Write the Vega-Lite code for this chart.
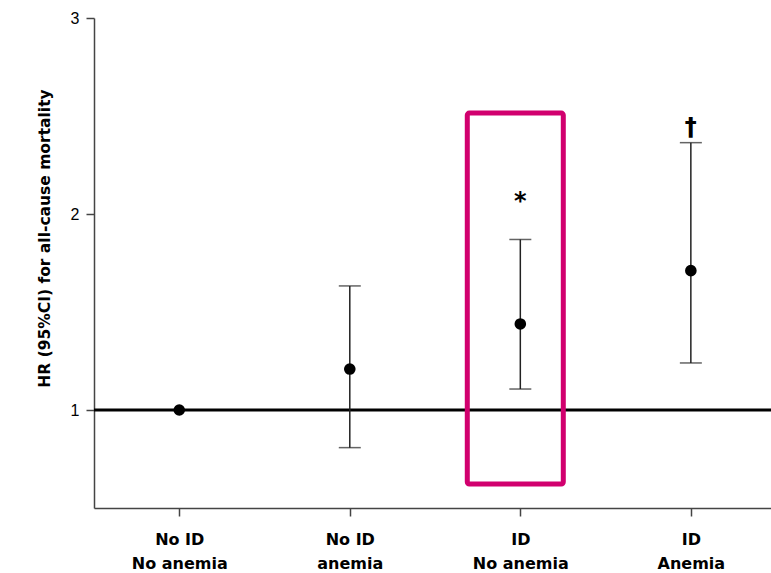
{
  "$schema": "https://vega.github.io/schema/vega-lite/v6.json",
  "width": 677,
  "height": 490,
  "autosize": {"type": "none"},
  "padding": {"left": 94, "top": 18, "right": 0, "bottom": 65},
  "background": "white",
  "config": {
    "view": {"stroke": null},
    "font": "Liberation Sans"
  },
  "datasets": {
    "pts": [
      {"group": 1, "label": "No ID|No anemia", "hr": 1.0, "lo": null, "hi": null},
      {"group": 2, "label": "No ID|anemia", "hr": 1.209, "lo": 0.808, "hi": 1.633},
      {"group": 3, "label": "ID|No anemia", "hr": 1.439, "lo": 1.107, "hi": 1.870},
      {"group": 4, "label": "ID|Anemia", "hr": 1.711, "lo": 1.240, "hi": 2.364}
    ],
    "marks": [
      {"group": 3, "y": 2.06, "sym": "*"},
      {"group": 4, "y": 2.44, "sym": "†"}
    ],
    "box": [
      {"x1": 2.689, "x2": 3.252, "y1": 0.622, "y2": 2.515}
    ]
  },
  "layer": [
    {
      "data": {"values": [{"ref": 1}]},
      "mark": {"type": "rule", "color": "black", "strokeWidth": 3},
      "encoding": {"y": {"field": "ref", "type": "quantitative"}}
    },
    {
      "data": {"name": "pts"},
      "transform": [{"filter": "datum.lo != null"}],
      "mark": {"type": "rule", "color": "#222", "strokeWidth": 1.5},
      "encoding": {
        "x": {"field": "group", "type": "quantitative"},
        "y": {"field": "lo", "type": "quantitative"},
        "y2": {"field": "hi"}
      }
    },
    {
      "data": {"name": "pts"},
      "transform": [{"filter": "datum.lo != null"}, {"fold": ["lo", "hi"], "as": ["end", "val"]}],
      "mark": {"type": "tick", "orient": "horizontal", "color": "#222", "size": 22, "thickness": 1.5},
      "encoding": {
        "x": {"field": "group", "type": "quantitative"},
        "y": {"field": "val", "type": "quantitative"}
      }
    },
    {
      "data": {"name": "pts"},
      "mark": {"type": "point", "filled": true, "color": "black", "size": 135, "opacity": 1},
      "encoding": {
        "x": {
          "field": "group",
          "type": "quantitative",
          "scale": {"domain": [0.5, 4.47], "nice": false, "zero": false},
          "axis": {
            "values": [1, 2, 3, 4],
            "title": null,
            "grid": false,
            "domainColor": "#444",
            "domainWidth": 1.5,
            "tickColor": "#444",
            "tickWidth": 1.5,
            "tickSize": 8,
            "labelExpr": "datum.value == 1 ? ['No ID', 'No anemia'] : datum.value == 2 ? ['No ID', 'anemia'] : datum.value == 3 ? ['ID', 'No anemia'] : ['ID', 'Anemia']",
            "labelFont": "DejaVu Sans",
            "labelFontWeight": "bold",
            "labelFontSize": 16,
            "labelLineHeight": 24,
            "labelColor": "black",
            "labelPadding": 15,
            "labelBaseline": "top"
          }
        },
        "y": {
          "field": "hr",
          "type": "quantitative",
          "scale": {"domain": [0.5, 3], "nice": false, "zero": false},
          "axis": {
            "values": [1, 2, 3],
            "format": "d",
            "grid": false,
            "domainColor": "#444",
            "domainWidth": 1.5,
            "tickColor": "#444",
            "tickWidth": 1.5,
            "tickSize": 8,
            "labelFont": "Liberation Sans",
            "labelFontSize": 16,
            "labelColor": "black",
            "labelPadding": 7,
            "title": "HR (95%CI) for all-cause mortality",
            "titleFont": "DejaVu Sans",
            "titleFontSize": 15.5,
            "titleFontWeight": "bold",
            "titleColor": "black",
            "titleAngle": -90,
            "titleX": -50,
            "titleY": 220,
            "titleAlign": "center",
            "titleBaseline": "middle"
          }
        }
      }
    },
    {
      "data": {"name": "marks"},
      "mark": {"type": "text", "fontSize": 24, "fontWeight": "bold", "color": "black", "baseline": "middle", "font": "DejaVu Sans"},
      "encoding": {
        "x": {"field": "group", "type": "quantitative"},
        "y": {"field": "y", "type": "quantitative"},
        "text": {"field": "sym"}
      }
    },
    {
      "data": {"name": "box"},
      "mark": {"type": "rect", "fill": null, "stroke": "#D1006E", "strokeWidth": 5, "cornerRadius": 2},
      "encoding": {
        "x": {"field": "x1", "type": "quantitative"},
        "x2": {"field": "x2"},
        "y": {"field": "y1", "type": "quantitative"},
        "y2": {"field": "y2"}
      }
    }
  ]
}
